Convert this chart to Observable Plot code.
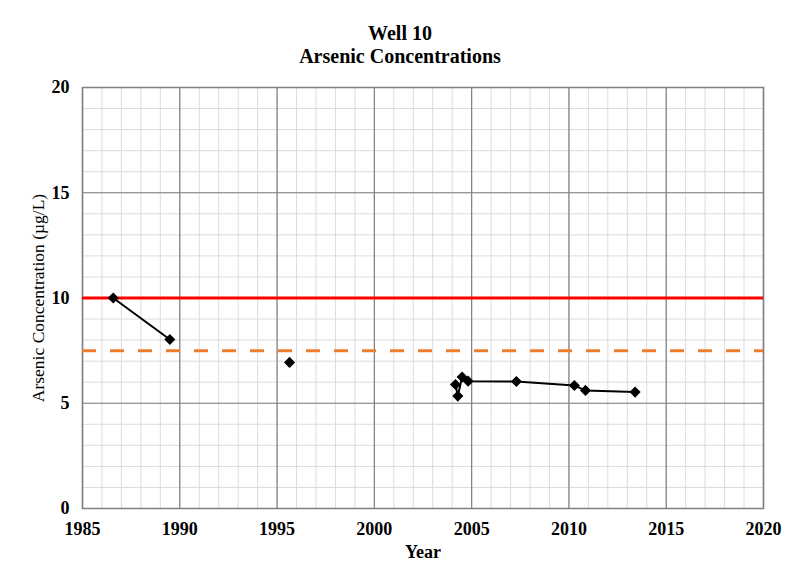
<!DOCTYPE html>
<html><head><meta charset="utf-8">
<script src="https://cdn.jsdelivr.net/npm/d3@7"></script>
<script src="https://cdn.jsdelivr.net/npm/@observablehq/plot@0.6"></script>
<style>
body{margin:0;background:#fff;font-family:"Liberation Serif","Times New Roman",serif;}
#title{width:792px;height:70px;text-align:center;font-weight:bold;font-size:20px;line-height:23px;padding-top:22px;padding-left:8px;box-sizing:border-box;color:#000;}
</style></head>
<body>
<div id="title">Well 10<br>Arsenic Concentrations</div>
<div id="chart"></div>
<script>
const years = [1986.58, 1989.49, 1995.64, 2004.17, 2004.29, 2004.51, 2004.82, 2007.30, 2010.28, 2010.85, 2013.40];
const arsenic = [10.0, 8.03, 6.94, 5.89, 5.34, 6.25, 6.05, 6.03, 5.84, 5.61, 5.53];
const segment = ["a", "a", "b", "c", "c", "c", "c", "c", "c", "c", "c"];
const mcl = 10;
const actionLevel = 7.5;
const xTicks = [1985, 1990, 1995, 2000, 2005, 2010, 2015, 2020];
const yTicks = [0, 5, 10, 15, 20];

const data = years.map((y, i) => ({year: y, value: arsenic[i], seg: segment[i]}));
const minorX = d3.range(1985, 2021, 1);
const minorY = d3.range(0, 21, 1);

const chart = Plot.plot({
  width: 792,
  height: 511,
  marginLeft: 82,
  marginRight: 29,
  marginTop: 17,
  marginBottom: 73,
  style: {fontFamily: "'Liberation Serif','Times New Roman',serif", fontSize: "18px", fontWeight: "bold", color: "#000", background: "#fff"},
  x: {domain: [1985, 2020], ticks: xTicks, tickFormat: d => String(d), tickSize: 0, tickPadding: 14, label: null},
  y: {domain: [0, 20], ticks: yTicks, tickSize: 0, tickPadding: 13, label: null},
  marks: [
    Plot.ruleX(minorX, {stroke: "#dcdcdc", strokeWidth: 1}),
    Plot.ruleY(minorY, {stroke: "#dcdcdc", strokeWidth: 1}),
    Plot.ruleX(xTicks, {stroke: "#7f7f7f", strokeWidth: 1.2}),
    Plot.ruleY(yTicks, {stroke: "#7f7f7f", strokeWidth: 1.2}),
    Plot.frame({stroke: "#7f7f7f", strokeWidth: 1.5}),
    Plot.ruleY([mcl], {stroke: "#ff0000", strokeWidth: 3}),
    Plot.ruleY([actionLevel], {stroke: "#ed7d31", strokeWidth: 3, strokeDasharray: "14,14"}),
    Plot.line(data, {x: "year", y: "value", z: "seg", stroke: "#000", strokeWidth: 2}),
    Plot.dot(data, {x: "year", y: "value", symbol: "diamond2", r: 5, fill: "#000", stroke: "none"}),
    Plot.axisX({ticks: xTicks, tickFormat: d => String(d), tickSize: 0, tickPadding: 14, label: null, fontSize: 18, fontWeight: "bold"}),
    Plot.axisY({ticks: yTicks, tickSize: 0, tickPadding: 13, label: null, fontSize: 18, fontWeight: "bold"}),
    Plot.text(["Year"], {frameAnchor: "bottom", dy: 49, fontSize: 18, fontWeight: "bold"}),
    Plot.text(["Arsenic Concentration (µg/L)"], {frameAnchor: "left", dx: -44, rotate: -90, textAnchor: "middle", fontSize: 17.5, fontWeight: "normal"})
  ]
});
document.getElementById("chart").appendChild(chart);
</script>
</body></html>
